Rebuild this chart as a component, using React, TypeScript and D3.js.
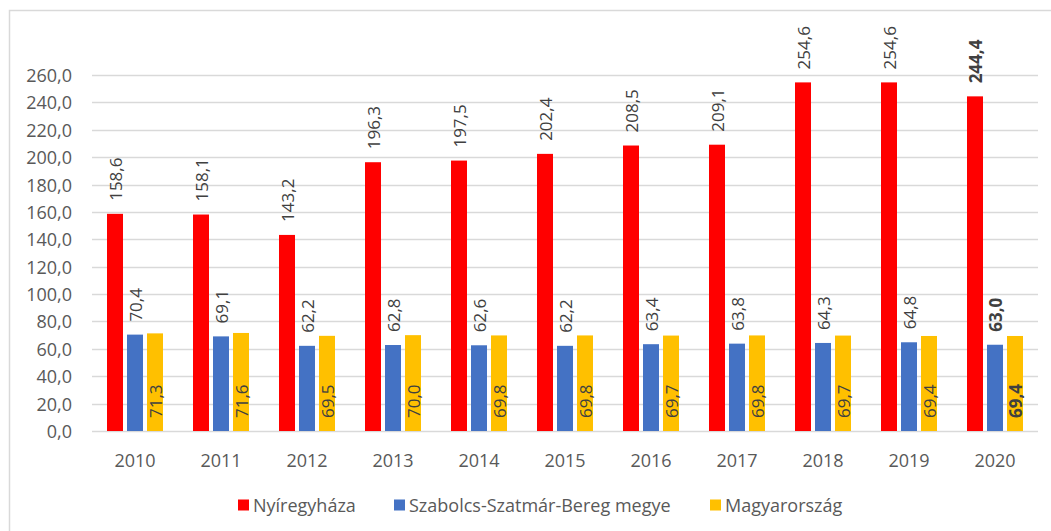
import React from "react";
import * as d3 from "d3";

const years = ["2010","2011","2012","2013","2014","2015","2016","2017","2018","2019","2020"];
const seriesNames = ["Nyíregyháza","Szabolcs-Szatmár-Bereg megye","Magyarország"];
const nyiregyhaza = [158.6,158.1,143.2,196.3,197.5,202.4,208.5,209.1,254.6,254.6,244.4];
const megye = [70.4,69.1,62.2,62.8,62.6,62.2,63.4,63.8,64.3,64.8,63.0];
const magyarorszag = [71.3,71.6,69.5,70.0,69.8,69.8,69.7,69.8,69.7,69.4,69.4];
const yTicks = [0,20,40,60,80,100,120,140,160,180,200,220,240,260];

const colors = ["#FF0000","#4472C4","#FFC000"];
const W = 1051, H = 531;
const FONT = "'Open Sans', sans-serif";
const legendX = [238, 394, 710];

export default function App() {
  const y = d3.scaleLinear().domain([0, 260]).range([431, 75]);
  const x = d3.scaleBand<string>().domain(years).range([92, 1038]).padding(0);
  const x1 = d3.scaleBand<string>().domain(seriesNames).range([15, 71]).paddingInner(0.2);
  const data = [nyiregyhaza, megye, magyarorszag];
  const fmt = (v: number) => d3.format(".1f")(v).replace(".", ",");

  return (
    <svg width={W} height={H} style={{ position: "absolute", left: 0, top: 0, background: "#fff" }} fontFamily={FONT}>
      <rect x={0} y={0} width={W} height={H} fill="#fff" />
      <rect x={9.5} y={10.5} width={W + 10} height={H + 10} fill="none" stroke="#D9D9D9" strokeWidth={1.5} />
      {yTicks.map((t) => (
        <g key={t}>
          <line x1={92} x2={1038} y1={Math.round(y(t)) + 0.5} y2={Math.round(y(t)) + 0.5} stroke="#D9D9D9" strokeWidth={1.3} />
          <text x={72} y={y(t)} textAnchor="end" dominantBaseline="central" fontSize={18} fill="#595959">{fmt(t)}</text>
        </g>
      ))}
      {years.map((yr, i) => {
        const x0 = x(yr)!;
        const bold = i === years.length - 1;
        return (
          <g key={yr}>
            {data.map((arr, s) => {
              const v = arr[i];
              const bx = x0 + x1(seriesNames[s])!;
              const bw = x1.bandwidth();
              const cx = bx + bw / 2;
              const top = y(v);
              const ly = s === 2 ? y(0) - 13 : top - 13;
              return (
                <g key={s}>
                  <rect x={bx} y={top} width={bw} height={y(0) - top} fill={colors[s]} />
                  <text
                    transform={`translate(${cx},${ly}) rotate(-90)`}
                    textAnchor="start"
                    dominantBaseline="central"
                    fontSize={17}
                    fontWeight={bold ? "bold" : "normal"}
                    fill="#404040"
                  >
                    {fmt(v)}
                  </text>
                </g>
              );
            })}
            <text x={x0 + x.bandwidth() / 2} y={460} textAnchor="middle" dominantBaseline="central" fontSize={18} fill="#595959">{yr}</text>
          </g>
        );
      })}
      {legendX.map((lx, s) => (
        <g key={s}>
          <rect x={lx} y={499.5} width={11} height={11} fill={colors[s]} />
          <text x={lx + 15} y={505} dominantBaseline="central" fontSize={18} fill="#595959">{seriesNames[s]}</text>
        </g>
      ))}
    </svg>
  );
}
